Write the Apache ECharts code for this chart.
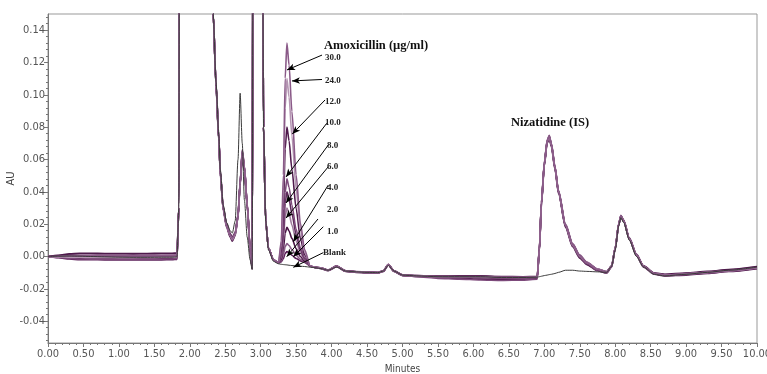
<!DOCTYPE html>
<html><head><meta charset="utf-8">
<script src="https://cdn.jsdelivr.net/npm/echarts@6/dist/echarts.min.js"></script>
<style>html,body{margin:0;padding:0;background:#fff}#c{width:767px;height:374px}</style>
</head><body><div id="c"></div>
<script>
// retention times (minutes), shared by all traces
const times = [
 0,0.15,0.3,0.45,0.6,0.8,1.0,1.2,1.4,1.6,1.75,1.82,1.845,1.86,1.9,
 2.2,2.3,2.33,2.37,2.41,2.43,2.47,2.52,2.57,2.6,2.64,2.68,2.71,2.74,2.77,2.81,2.85,2.88,2.895,2.95,3.02,3.04,3.07,3.11,3.18,3.25,
 3.29,3.32,3.345,3.37,3.4,3.44,3.5,3.56,3.62,3.7,
 3.78,3.85,3.95,4.07,4.2,4.35,4.5,4.65,4.73,4.8,4.88,5.0,5.2,5.5,5.8,6.1,6.4,6.7,6.9,
 6.93,6.96,7.0,7.04,7.07,7.1,7.15,7.2,7.3,7.4,7.5,7.6,7.75,7.88,
 7.95,8.0,8.05,8.08,8.12,8.2,8.3,8.4,8.55,8.7,9.0,9.3,9.6,10.0
];
// absorbance (AU) per trace
const blank = [
 0,0.0002,0.0003,0.0002,0,-0.0002,-0.0004,-0.0005,-0.0005,-0.0004,-0.0004,-0.0002,0.03,0.4,0.8,
 0.8,0.3,0.15,0.108,0.074,0.054,0.032,0.021,0.016,0.0145,0.022,0.06,0.101,0.07,0.035,0.012,-0.002,-0.008,0.3,0.8,0.3,0.08,0.022,0.004,-0.003,-0.0045,
 -0.0048,-0.005,-0.0051,-0.0052,-0.0054,-0.0056,-0.0058,-0.006,-0.0062,-0.0066,
 -0.007,-0.0075,-0.0085,-0.0065,-0.009,-0.0095,-0.0098,-0.010,-0.009,-0.0055,-0.009,-0.0115,-0.012,-0.0125,-0.0125,-0.0125,-0.013,-0.013,-0.0128,
 -0.0125,-0.0122,-0.0118,-0.0115,-0.0112,-0.011,-0.0105,-0.0098,-0.0085,-0.0085,-0.009,-0.0092,-0.0095,-0.0098,
 -0.006,0.004,0.019,0.024,0.021,0.010,0.000,-0.0065,-0.011,-0.012,-0.011,-0.0098,-0.0085,-0.0065
];
const c1 = [
 0,-0.0008,-0.0015,-0.002,-0.002,-0.0021,-0.0022,-0.0022,-0.0022,-0.0021,-0.002,-0.0018,0.03,0.4,0.8,
 0.8,0.3,0.15,0.106,0.072,0.052,0.030,0.019,0.013,0.011,0.014,0.025,0.045,0.064,0.055,0.032,0.005,-0.007,0.3,0.8,0.3,0.08,0.022,0.005,-0.002,-0.004,
 -0.0033,-0.0012,0.0019,0.003,0.0023,0.0008,-0.0012,-0.0027,-0.0036,-0.006,
 -0.0068,-0.0072,-0.0085,-0.006,-0.009,-0.0095,-0.0098,-0.010,-0.009,-0.005,-0.009,-0.0115,-0.012,-0.0125,-0.0125,-0.0125,-0.013,-0.013,-0.0128,
 0.004,0.033,0.057,0.071,0.074,0.069,0.055,0.040,0.019,0.007,0.000,-0.004,-0.008,-0.0095,
 -0.006,0.005,0.020,0.025,0.022,0.011,0.001,-0.006,-0.0105,-0.0115,-0.0108,-0.0098,-0.0088,-0.007
];
const c2 = [
 0,0.0006,0.0012,0.0016,0.0015,0.0015,0.0014,0.0014,0.0015,0.0015,0.0016,0.0018,0.03,0.4,0.8,
 0.8,0.3,0.15,0.107,0.073,0.053,0.031,0.02,0.014,0.012,0.015,0.026,0.046,0.063,0.054,0.031,0.004,-0.008,0.3,0.8,0.3,0.08,0.023,0.005,-0.002,-0.004,
 -0.0028,0.0008,0.0061,0.008,0.0068,0.0043,0.0008,-0.0018,-0.0033,-0.006,
 -0.0066,-0.007,-0.0083,-0.0058,-0.0088,-0.0093,-0.0096,-0.0098,-0.0088,-0.0048,-0.0088,-0.0113,-0.0118,-0.0122,-0.0123,-0.0124,-0.0128,-0.0128,-0.0126,
 0.005,0.034,0.058,0.072,0.075,0.07,0.056,0.041,0.020,0.008,0.001,-0.0035,-0.0078,-0.0093,
 -0.0058,0.0055,0.0205,0.0255,0.0225,0.0115,0.0015,-0.0058,-0.0103,-0.0112,-0.0105,-0.0095,-0.0085,-0.0066
];
const c4 = [
 0,-0.0004,-0.0008,-0.001,-0.0011,-0.0011,-0.0012,-0.0012,-0.0012,-0.0011,-0.001,-0.0008,0.03,0.4,0.8,
 0.8,0.3,0.15,0.105,0.071,0.051,0.029,0.018,0.012,0.0095,0.013,0.024,0.044,0.062,0.053,0.031,0.005,-0.0075,0.3,0.8,0.3,0.08,0.022,0.005,-0.002,-0.004,
 -0.0018,0.0048,0.0145,0.018,0.0158,0.0112,0.0048,0.0,-0.0027,-0.006,
 -0.007,-0.0075,-0.0088,-0.0063,-0.0093,-0.0098,-0.0101,-0.0103,-0.0093,-0.0053,-0.0093,-0.0118,-0.0124,-0.013,-0.0135,-0.014,-0.0142,-0.014,-0.0135,
 0.003,0.032,0.056,0.070,0.073,0.068,0.054,0.039,0.018,0.006,-0.001,-0.005,-0.0088,-0.0102,
 -0.0065,0.0045,0.0195,0.0245,0.0215,0.0105,0.0005,-0.0066,-0.011,-0.012,-0.0115,-0.0105,-0.0093,-0.0075
];
const c6 = [
 0,0.0004,0.0008,0.001,0.001,0.0009,0.0009,0.0008,0.0009,0.001,0.001,0.0012,0.03,0.4,0.8,
 0.8,0.3,0.15,0.106,0.072,0.052,0.030,0.019,0.013,0.0105,0.014,0.025,0.045,0.065,0.056,0.033,0.006,-0.0068,0.3,0.8,0.3,0.08,0.022,0.005,-0.002,-0.004,
 -0.0006,0.0096,0.0246,0.030,0.0266,0.0195,0.0096,0.0021,-0.002,-0.006,
 -0.0067,-0.0071,-0.0084,-0.0059,-0.0089,-0.0094,-0.0097,-0.0099,-0.0089,-0.0049,-0.0089,-0.0114,-0.0119,-0.0123,-0.0122,-0.0121,-0.0125,-0.0126,-0.0125,
 0.004,0.033,0.057,0.071,0.0735,0.069,0.055,0.040,0.019,0.007,0.0,-0.004,-0.008,-0.0094,
 -0.006,0.005,0.020,0.025,0.022,0.011,0.001,-0.006,-0.0104,-0.0113,-0.0104,-0.0094,-0.0083,-0.0064
];
const c8 = [
 0,0.0001,0.0001,0,-0.0001,-0.0001,-0.0002,-0.0002,-0.0001,0,0,0.0002,0.03,0.4,0.8,
 0.8,0.3,0.15,0.105,0.072,0.052,0.030,0.019,0.013,0.011,0.014,0.025,0.045,0.066,0.056,0.032,0.005,-0.007,0.3,0.8,0.3,0.08,0.022,0.005,-0.002,-0.004,
 0.0004,0.0136,0.033,0.040,0.0356,0.0264,0.0136,0.0039,-0.0014,-0.006,
 -0.0069,-0.0073,-0.0086,-0.0061,-0.0091,-0.0096,-0.0099,-0.0101,-0.0091,-0.0051,-0.0091,-0.0116,-0.0121,-0.0127,-0.0128,-0.013,-0.0134,-0.0133,-0.013,
 0.0045,0.0335,0.0575,0.0715,0.0745,0.0695,0.0555,0.0405,0.0195,0.0075,0.0005,-0.0038,-0.0079,-0.0094,
 -0.006,0.005,0.020,0.025,0.022,0.011,0.001,-0.006,-0.0106,-0.0116,-0.011,-0.01,-0.009,-0.0072
];
const c10 = [
 0,-0.0006,-0.0012,-0.0015,-0.0016,-0.0016,-0.0017,-0.0017,-0.0016,-0.0016,-0.0015,-0.0013,0.03,0.4,0.8,
 0.8,0.3,0.15,0.106,0.072,0.052,0.030,0.019,0.0125,0.010,0.0135,0.0245,0.0445,0.0635,0.0545,0.0315,0.0045,-0.0072,0.3,0.8,0.3,0.08,0.022,0.005,-0.002,-0.004,
 0.0012,0.0168,0.0397,0.048,0.0428,0.0319,0.0168,0.0054,-0.0009,-0.006,
 -0.0068,-0.0072,-0.0085,-0.006,-0.009,-0.0095,-0.0098,-0.01,-0.009,-0.005,-0.009,-0.0117,-0.0125,-0.0135,-0.014,-0.0145,-0.0148,-0.0146,-0.014,
 0.0035,0.0325,0.0565,0.0705,0.0735,0.0685,0.0545,0.0395,0.0185,0.0065,-0.0005,-0.0045,-0.0085,-0.0099,
 -0.0063,0.0048,0.0198,0.0248,0.0218,0.0108,0.0008,-0.0063,-0.0108,-0.0118,-0.0112,-0.0102,-0.0091,-0.0073
];
const c12 = [
 0,0.0008,0.0016,0.002,0.002,0.0019,0.0019,0.0018,0.0019,0.002,0.002,0.0022,0.03,0.4,0.8,
 0.8,0.3,0.15,0.107,0.073,0.053,0.031,0.02,0.014,0.0115,0.0145,0.0255,0.0455,0.0645,0.0555,0.0325,0.0055,-0.0065,0.3,0.8,0.3,0.08,0.022,0.005,-0.002,-0.004,
 0.0044,0.0296,0.0666,0.080,0.0716,0.054,0.0296,0.0111,0.001,-0.006,
 -0.0067,-0.0071,-0.0084,-0.0059,-0.0089,-0.0094,-0.0097,-0.0099,-0.0089,-0.0049,-0.0089,-0.0113,-0.0118,-0.0121,-0.012,-0.012,-0.0124,-0.0125,-0.0124,
 0.004,0.033,0.057,0.071,0.074,0.069,0.055,0.040,0.019,0.007,0.0,-0.004,-0.008,-0.0095,
 -0.0058,0.0052,0.0202,0.0252,0.0222,0.0112,0.0012,-0.0058,-0.0102,-0.011,-0.0102,-0.0092,-0.0081,-0.0062
];
const c24 = [
 0,-0.0002,-0.0004,-0.0005,-0.0006,-0.0006,-0.0007,-0.0007,-0.0006,-0.0005,-0.0005,-0.0003,0.03,0.4,0.8,
 0.8,0.3,0.15,0.106,0.072,0.052,0.030,0.019,0.013,0.0108,0.0138,0.0248,0.0448,0.0648,0.0558,0.0318,0.0048,-0.007,0.3,0.8,0.3,0.08,0.022,0.005,-0.002,-0.004,
 0.0074,0.0416,0.0918,0.110,0.0986,0.0747,0.0416,0.0165,0.0028,-0.006,
 -0.0068,-0.0072,-0.0085,-0.006,-0.009,-0.0095,-0.0098,-0.010,-0.009,-0.005,-0.009,-0.0115,-0.012,-0.0125,-0.0125,-0.0125,-0.013,-0.013,-0.0128,
 0.0042,0.0332,0.0572,0.0712,0.0742,0.0692,0.0552,0.0402,0.0192,0.0072,0.0002,-0.0038,-0.0078,-0.0094,
 -0.006,0.005,0.020,0.025,0.022,0.011,0.001,-0.006,-0.0105,-0.0115,-0.0108,-0.0098,-0.0088,-0.007
];
const c30 = [
 0,0.0002,0.0004,0.0005,0.0005,0.0004,0.0004,0.0004,0.0004,0.0005,0.0006,0.0008,0.03,0.4,0.8,
 0.8,0.3,0.15,0.106,0.072,0.052,0.030,0.019,0.013,0.0112,0.0142,0.0252,0.0452,0.0652,0.0552,0.0322,0.0052,-0.0068,0.3,0.8,0.3,0.08,0.022,0.005,-0.002,-0.004,
 0.0096,0.0504,0.1102,0.132,0.1184,0.0898,0.0504,0.0205,0.0042,-0.006,
 -0.0069,-0.0073,-0.0086,-0.0061,-0.0091,-0.0096,-0.0099,-0.0101,-0.0091,-0.0051,-0.0091,-0.0115,-0.012,-0.0124,-0.0124,-0.0124,-0.0129,-0.0129,-0.0127,
 0.0045,0.0335,0.0575,0.0715,0.0745,0.0695,0.0555,0.0405,0.0195,0.0075,0.0005,-0.0038,-0.0079,-0.0094,
 -0.006,0.005,0.020,0.025,0.022,0.011,0.001,-0.006,-0.0105,-0.0115,-0.0108,-0.0098,-0.0088,-0.007
];
const concLabels = ['1.0','2.0','4.0','6.0','8.0','10.0','12.0','24.0','30.0','Blank'];
const yMajorTicks = [-0.04,-0.02,0,0.02,0.04,0.06,0.08,0.10,0.12,0.14];
const yMinorTicks = [-0.052,-0.048,-0.044,-0.04,-0.036,-0.032,-0.028,-0.024,-0.02,-0.016,-0.012,-0.008,-0.004,0,
 0.004,0.008,0.012,0.016,0.02,0.024,0.028,0.032,0.036,0.04,0.044,0.048,0.052,0.056,0.06,0.064,0.068,0.072,0.076,0.08,
 0.084,0.088,0.092,0.096,0.1,0.104,0.108,0.112,0.116,0.12,0.124,0.128,0.132,0.136,0.14,0.144,0.148];

const traces = [c1,c2,c4,c6,c8,c10,c12,c24,c30,blank];
const colors = ['#5b1f58','#8c5f8a','#4a1446','#a07d9e','#5e2a5b','#7d4a7b','#4f1a4c','#b596b3','#8a5a88','#3a3a3a'];

// annotation arrows: [label start] -> [arrow head], in data coordinates
const arrows = [
 [[3.865,0.1246],[3.371,0.1154]],
 [[3.865,0.1095],[3.441,0.1086]],
 [[3.907,0.0968],[3.446,0.0758]],
 [[3.931,0.0824],[3.357,0.0492]],
 [[3.953,0.0690],[3.357,0.0331]],
 [[3.953,0.0555],[3.357,0.0238]],
 [[3.953,0.0442],[3.460,0.0092]],
 [[3.808,0.0232],[3.367,-0.0001]],
 [[3.883,0.0184],[3.460,-0.0001]],
 [[3.883,0.0024],[3.460,-0.0067]]
];
const arrowLabels = ['30.0','24.0','12.0','10.0','8.0','6.0','4.0','2.0','1.0','Blank'];
const arrowLabelY = [58,81,102,123,146,167,188,210,232,253];

const axisFont = "'Liberation Sans Narrow','Arial Narrow','DejaVu Sans Condensed',sans-serif";
const chart = echarts.init(document.getElementById('c'), null, {renderer:'canvas'});

const series = traces.map((vals,i)=>({
  name: concLabels[i],
  type:'line',
  data: times.map((t,k)=>[t, vals[k]]),
  showSymbol:false,
  smooth:0.25,
  smoothMonotone:'x',
  clip:true,
  lineStyle:{color:colors[i], width: i===9 ? 1 : 1.6},
  animation:false,
  z: 2
}));
series[9].markLine = {
  silent:true, animation:false,
  symbol:['none','arrow'], symbolSize:[5,8],
  lineStyle:{color:'#000', width:1, type:'solid'},
  label:{show:false},
  data: arrows.map(a=>[{coord:a[0]},{coord:a[1]}])
};

const graphics = [
  {type:'text', x:324, y:46, style:{text:'Amoxicillin (\u00b5g/ml)', font:"bold 12.5px 'Liberation Serif', serif", fill:'#111', verticalAlign:'middle'}},
  {type:'text', x:511, y:123, style:{text:'Nizatidine (IS)', font:"bold 12.5px 'Liberation Serif', serif", fill:'#111', verticalAlign:'middle'}}
].concat(arrowLabels.map((s,i)=>({
  type:'text', x: s==='Blank'?323:(s.length===4?325:327), y: arrowLabelY[i],
  style:{text:s, font:"bold 9px 'Liberation Serif', serif", fill:'#222', verticalAlign:'middle'}
})));

chart.setOption({
  animation:false,
  backgroundColor:'#fff',
  grid:{left:48, right:10, top:14, bottom:31, show:true, borderColor:'#999', borderWidth:1, containLabel:false, outerBoundsMode:'none'},
  xAxis:{
    type:'value', min:0, max:10, interval:0.5,
    name:'Minutes', nameLocation:'middle', nameGap:19,
    nameTextStyle:{fontFamily:axisFont, fontSize:10, color:'#444'},
    axisLine:{onZero:false, lineStyle:{color:'#777'}},
    axisTick:{show:true, inside:false, length:4, lineStyle:{color:'#777'}},
    minorTick:{show:true, splitNumber:5, length:2, lineStyle:{color:'#777'}},
    axisLabel:{formatter:v=>v.toFixed(2), fontFamily:axisFont, fontSize:11, color:'#555', margin:6},
    splitLine:{show:false}
  },
  yAxis:[{
    type:'value', min:-0.0535, max:0.15,
    name:'AU', nameLocation:'middle', nameGap:31, nameRotate:90, nameMoveOverlap:false,
    nameTextStyle:{fontFamily:axisFont, fontSize:11, color:'#444'},
    axisLine:{show:true, onZero:false, lineStyle:{color:'#777'}},
    axisTick:{show:true, length:4, customValues:yMajorTicks, lineStyle:{color:'#777'}},
    axisLabel:{customValues:yMajorTicks, formatter:v=>v.toFixed(2), fontFamily:axisFont, fontSize:11, color:'#555', margin:3},
    splitLine:{show:false}
  },{
    type:'value', min:-0.0535, max:0.15, position:'left', offset:0,
    axisLine:{show:false, onZero:false},
    axisTick:{show:true, length:2, customValues:yMinorTicks, lineStyle:{color:'#777'}},
    axisLabel:{show:false, customValues:yMinorTicks},
    splitLine:{show:false}
  }],
  graphic: graphics,
  series: series
});
</script></body></html>
